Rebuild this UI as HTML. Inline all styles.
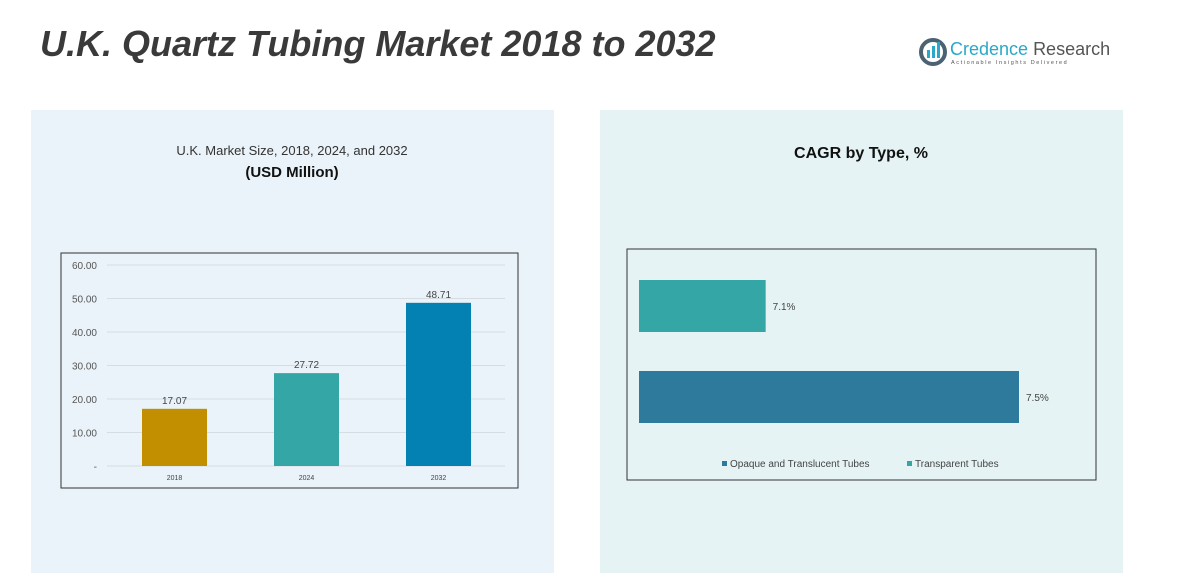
<!DOCTYPE html>
<html><head><meta charset="utf-8"><style>
body{margin:0;width:1186px;height:586px;background:#fff;font-family:"Liberation Sans",sans-serif;overflow:hidden;position:relative}
</style></head><body>
<svg width="1186" height="586" style="position:absolute;left:0;top:0">
<rect x="31" y="110" width="523" height="463" fill="#eaf3f9"/>
<rect x="600" y="110" width="523" height="463" fill="#e6f3f4"/>
<text x="40" y="56" font-size="36" font-weight="bold" font-style="italic" fill="#3a3a3a">U.K. Quartz Tubing Market 2018 to 2032</text>
<g>
<circle cx="933" cy="52" r="12" fill="none" stroke="#4a6272" stroke-width="4"/>
<rect x="927" y="50" width="3" height="8" fill="#2aa7c9"/><rect x="932" y="46" width="3" height="12" fill="#2aa7c9"/><rect x="937" y="42" width="3" height="16" fill="#2aa7c9"/>
<text x="950" y="55" font-size="18" fill="#2aa7c9">Credence <tspan fill="#555">Research</tspan></text>
<text x="951" y="64" font-size="5.5" fill="#555" letter-spacing="1.6">Actionable Insights Delivered</text>
</g>
<text x="292" y="155" font-size="13" fill="#333" text-anchor="middle">U.K. Market Size, 2018, 2024, and 2032</text>
<text x="292" y="177" font-size="15" font-weight="bold" fill="#111" text-anchor="middle">(USD Million)</text>
<text x="861" y="158" font-size="16" font-weight="bold" fill="#111" text-anchor="middle">CAGR by Type, %</text>
<rect x="61" y="253" width="457" height="235" fill="none" stroke="#333" stroke-width="1"/>
<rect x="627" y="249" width="469" height="231" fill="none" stroke="#333" stroke-width="1"/>
<g id="left"></g><g id="right"></g>
</svg>
<script>
const years=["2018","2024","2032"];
const sizes=[17.07,27.72,48.71];
const yTicks=[0,10,20,30,40,50,60];
const types=["Transparent Tubes","Opaque and Translucent Tubes"];
const cagr=[7.1,7.5];
const NS="http://www.w3.org/2000/svg";
function mk(p,t,a,txt){const e=document.createElementNS(NS,t);for(const k in a)e.setAttribute(k,a[k]);if(txt!==undefined)e.textContent=txt;p.appendChild(e);return e;}
const L=document.getElementById('left');
const y=v=>466-v*(466-265)/60;
yTicks.forEach(t=>{
 const g=mk(L,'line',{x1:107,x2:505,y1:y(t),y2:y(t),stroke:'#d5dde3'});
 
 const l=mk(L,'text',{x:97,y:y(t)+4,'font-size':10,fill:'#555','text-anchor':'end'},t===0?'-':t.toFixed(2));
 
});
const colors=['#c18f00','#35a6a6','#0381b3'];
const x=i=>142+i*132;
years.forEach((yr,i)=>{
 const b=mk(L,'rect',{x:x(i),y:y(sizes[i]),width:65,height:y(0)-y(sizes[i]),fill:colors[i]});
 
 const v=mk(L,'text',{x:x(i)+32.5,y:y(sizes[i])-5,'font-size':10,fill:'#444','text-anchor':'middle'},sizes[i].toFixed(2));
 
 const c=mk(L,'text',{x:x(i)+32.5,y:480,'font-size':7,fill:'#444','text-anchor':'middle'},yr);
 
});
const R=document.getElementById('right');
const xr=v=>639+(v-6.9)*(1019-639)/0.6;
const rc=['#35a6a6','#2e7a9c'];const ry=[280,371];
types.forEach((t,i)=>{
 const b=mk(R,'rect',{x:639,y:ry[i],width:xr(cagr[i])-639,height:52,fill:rc[i]});
 
 const v=mk(R,'text',{x:xr(cagr[i])+7,y:ry[i]+30,'font-size':10,fill:'#444'},cagr[i].toFixed(1)+'%');
 
});
const leg=[["Opaque and Translucent Tubes",'#2e7a9c',722],["Transparent Tubes",'#35a6a6',907]];
leg.forEach(l=>{
 const s=mk(R,'rect',{x:l[2],y:461,width:5,height:5,fill:l[1]});
 
 const t=mk(R,'text',{x:l[2]+8,y:467,'font-size':10,fill:'#444'},l[0]);
 
});
</script>
</body></html>
